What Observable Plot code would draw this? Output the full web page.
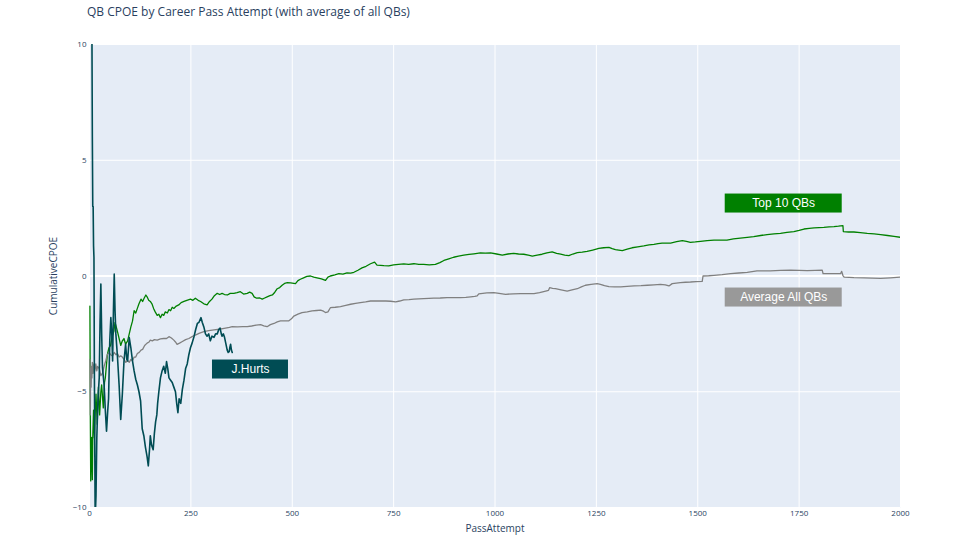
<!DOCTYPE html>
<html>
<head>
<meta charset="utf-8">
<script src="https://cdn.jsdelivr.net/npm/d3@7"></script>
<script src="https://cdn.jsdelivr.net/npm/@observablehq/plot@0.6"></script>
<style>
  html, body { margin: 0; padding: 0; background: #fff; }
  #wrap { position: relative; width: 960px; height: 540px; }
  #title { position: absolute; left: 87px; top: 3px; font-family: "Open Sans", sans-serif; font-size: 12px; color: #2a3f5f; white-space: nowrap; }
</style>
</head>
<body>
<div id="wrap"><div id="title">QB CPOE by Career Pass Attempt (with average of all QBs)</div></div>
<script>
// ---- data (PassAttempt, CumulativeCPOE) ----
const top10 = [[1,-1.3],[2,-6.1],[3,-8.85],[4,-7.5],[5,-6.97],[6,-8.0],[7,-8.8],[8,-7.0],[10,-5.8],[12,-7.0],[14,-6.0],[16,-5.1],[19,-6.4],[22,-4.8],[25,-6.0],[28,-5.0],[30,-4.7],[34,-5.7],[37,-4.6],[39,-4.4],[42,-3.8],[44,-3.4],[48,-3.1],[52,-3.0],[56,-2.6],[60,-2.4],[63,-2.0],[66,-2.2],[69,-2.4],[73,-2.7],[77,-3.0],[81,-2.8],[85,-2.7],[89,-2.95],[94,-2.8],[98,-2.5],[102,-2.2],[106,-1.95],[110,-1.5],[114,-1.6],[118,-1.4],[122,-1.2],[127,-1.0],[131,-1.1],[135,-0.95],[139,-0.82],[142,-0.9],[146,-1.05],[150,-1.1],[154,-1.2],[158,-1.4],[162,-1.55],[167,-1.7],[171,-1.65],[175,-1.8],[179,-1.65],[183,-1.7],[187,-1.55],[192,-1.6],[196,-1.45],[200,-1.5],[204,-1.35],[208,-1.4],[214,-1.3],[220,-1.25],[226,-1.15],[233,-1.1],[240,-1.05],[249,-1.0],[255,-1.05],[261,-0.96],[268,-1.05],[274,-1.1],[282,-1.2],[290,-1.25],[296,-1.1],[302,-1.0],[308,-0.85],[315,-0.75],[321,-0.8],[327,-0.75],[333,-0.8],[340,-0.82],[347,-0.75],[356,-0.75],[364,-0.72],[372,-0.68],[380,-0.78],[389,-0.75],[395,-0.7],[401,-0.75],[406,-0.9],[412,-0.96],[420,-0.95],[426,-1.0],[432,-0.95],[438,-0.9],[445,-0.85],[451,-0.82],[457,-0.7],[463,-0.55],[469,-0.5],[475,-0.4],[481,-0.32],[488,-0.29],[496,-0.3],[508,-0.33],[514,-0.2],[520,-0.14],[528,-0.08],[536,-0.02],[545,0.0],[553,-0.05],[561,-0.08],[572,-0.12],[582,-0.19],[588,-0.05],[594,0.0],[605,0.05],[615,0.1],[625,0.08],[635,0.13],[644,0.12],[652,0.16],[662,0.25],[672,0.35],[682,0.42],[693,0.53],[703,0.6],[709,0.47],[718,0.46],[726,0.45],[738,0.44],[750,0.48],[762,0.5],[775,0.52],[787,0.5],[800,0.53],[812,0.5],[824,0.5],[838,0.48],[853,0.5],[864,0.58],[874,0.67],[886,0.74],[898,0.81],[910,0.86],[923,0.9],[936,0.93],[948,0.96],[964,1.0],[976,0.99],[989,1.0],[1004,0.95],[1018,0.9],[1032,0.95],[1046,0.98],[1058,0.95],[1071,0.94],[1082,0.9],[1092,0.86],[1104,0.9],[1116,0.94],[1128,1.0],[1141,1.04],[1152,0.98],[1162,0.94],[1172,0.9],[1182,0.88],[1192,0.95],[1203,1.01],[1215,1.03],[1227,1.06],[1241,1.12],[1256,1.19],[1268,1.22],[1281,1.24],[1289,1.18],[1297,1.14],[1305,1.12],[1314,1.1],[1326,1.16],[1338,1.22],[1352,1.26],[1367,1.3],[1380,1.34],[1392,1.37],[1402,1.4],[1412,1.42],[1422,1.42],[1433,1.42],[1448,1.48],[1462,1.53],[1472,1.5],[1482,1.45],[1494,1.47],[1507,1.5],[1523,1.53],[1540,1.55],[1556,1.55],[1572,1.55],[1588,1.6],[1605,1.64],[1622,1.67],[1638,1.7],[1655,1.75],[1671,1.79],[1688,1.82],[1704,1.84],[1720,1.88],[1737,1.92],[1750,1.97],[1762,2.03],[1775,2.06],[1787,2.08],[1799,2.09],[1811,2.1],[1824,2.12],[1836,2.13],[1847,2.15],[1858,2.18],[1859,1.92],[1872,1.9],[1885,1.9],[1901,1.87],[1918,1.84],[1935,1.82],[1951,1.79],[1968,1.75],[1984,1.71],[2000,1.67]];

const avgAll = [[1,-3.6],[2,-6.0],[3,-4.0],[4,-4.8],[5,-3.9],[6,-4.4],[7,-3.73],[9,-4.2],[11,-3.8],[13,-4.1],[15.6,-3.8],[18,-4.1],[20,-3.9],[24,-4.0],[28,-4.3],[32,-4.2],[36,-3.9],[40,-3.67],[44,-3.4],[48.5,-3.3],[52,-3.4],[56.8,-3.45],[61,-3.3],[65,-3.4],[69,-3.35],[73,-3.5],[77,-3.45],[81,-3.5],[85,-3.6],[89.5,-3.73],[94,-3.65],[98,-3.73],[102,-3.6],[106,-3.67],[110,-3.5],[114,-3.5],[118,-3.35],[122.6,-3.3],[127,-3.2],[131,-3.17],[136,-3.0],[142,-2.9],[147,-2.85],[150,-2.77],[155,-2.8],[160,-2.75],[167,-2.77],[175,-2.72],[183,-2.7],[190,-2.7],[196,-2.62],[202,-2.68],[208,-2.77],[212,-2.85],[216,-2.95],[222,-2.9],[228,-2.84],[237,-2.75],[245,-2.7],[253,-2.62],[261,-2.55],[270,-2.48],[282,-2.4],[294,-2.36],[307,-2.33],[320,-2.3],[332,-2.26],[345,-2.22],[352,-2.19],[365,-2.2],[378,-2.19],[389,-2.19],[400,-2.16],[411,-2.12],[422,-2.1],[430,-2.15],[438,-2.19],[446,-2.1],[455,-2.05],[463,-1.98],[471,-1.94],[481,-1.94],[491,-1.94],[498,-1.85],[504,-1.73],[514,-1.65],[524,-1.58],[537,-1.55],[549,-1.51],[560,-1.49],[570,-1.47],[577,-1.52],[582,-1.58],[588,-1.55],[594,-1.37],[606,-1.35],[619,-1.32],[632,-1.27],[644,-1.22],[656,-1.18],[668,-1.15],[681,-1.12],[693,-1.08],[705,-1.08],[718,-1.08],[731,-1.08],[743,-1.09],[755,-1.12],[765,-1.08],[775,-1.03],[788,-1.02],[800,-1.0],[812,-0.99],[824,-0.98],[837,-0.97],[849,-0.96],[865,-0.95],[882,-0.93],[898,-0.93],[915,-0.93],[928,-0.92],[940,-0.9],[950,-0.88],[956,-0.86],[960,-0.77],[970,-0.75],[980,-0.73],[997,-0.72],[1010,-0.75],[1026,-0.79],[1045,-0.77],[1063,-0.76],[1080,-0.76],[1096,-0.76],[1110,-0.72],[1125,-0.65],[1132,-0.62],[1135,-0.5],[1142,-0.53],[1149,-0.55],[1163,-0.6],[1178,-0.65],[1190,-0.6],[1203,-0.55],[1213,-0.47],[1223,-0.4],[1237,-0.36],[1252,-0.33],[1260,-0.36],[1270,-0.42],[1281,-0.46],[1295,-0.47],[1310,-0.47],[1326,-0.45],[1343,-0.43],[1360,-0.42],[1376,-0.4],[1392,-0.38],[1408,-0.36],[1420,-0.38],[1429,-0.43],[1437,-0.33],[1447,-0.31],[1457,-0.29],[1470,-0.27],[1482,-0.26],[1496,-0.24],[1511,-0.23],[1513,0.0],[1527,0.01],[1540,0.03],[1560,0.06],[1581,0.1],[1601,0.13],[1622,0.16],[1634,0.19],[1646,0.22],[1663,0.22],[1679,0.22],[1704,0.24],[1729,0.25],[1750,0.24],[1770,0.23],[1790,0.24],[1807,0.25],[1809,0.1],[1830,0.1],[1852,0.1],[1855,0.2],[1858,0.02],[1861,-0.05],[1885,-0.07],[1910,-0.08],[1930,-0.09],[1951,-0.1],[1975,-0.08],[2000,-0.05]];

const hurts = [[1,60],[4,25],[6,10.5],[7,6],[8,3.0],[9,3.0],[10,1.3],[11,0.8],[12,-4],[14,-10.5],[16,-9.5],[18,-7.0],[20,-5.8],[22,-5.0],[24,-4.4],[26,-2.0],[28,-0.35],[30,-2.5],[32,-3.96],[36,-4.7],[39,-5.8],[42,-6.7],[45,-5.8],[47,-5.3],[50,-2.8],[52.6,-1.8],[55,-2.5],[57,-3.67],[59,-1.5],[61,0.08],[63,-1.5],[65,-2.5],[69,-3.5],[73,-4.7],[77,-6.2],[81,-5.1],[85,-3.7],[89,-2.95],[92,-3.6],[94,-3.67],[98,-2.66],[102,-3.1],[106,-3.67],[110,-4.1],[114,-4.46],[118,-4.7],[122,-5.0],[126,-5.4],[130,-6.6],[134,-6.9],[138,-7.4],[142,-7.8],[145,-8.2],[148,-7.5],[150,-6.9],[153,-7.3],[157,-7.5],[160,-6.8],[163,-6.3],[166,-6.0],[168,-5.5],[171,-5.0],[175,-4.4],[179,-4.1],[183,-3.9],[187,-4.2],[190,-3.7],[193,-4.0],[196,-4.4],[200,-4.5],[204,-4.6],[208,-4.8],[212,-5.0],[215,-5.5],[218,-5.9],[221,-5.3],[225,-5.5],[229,-4.9],[233,-4.5],[237,-4.0],[241,-3.8],[245,-3.4],[249,-3.1],[253,-2.9],[258,-2.6],[262,-2.3],[266,-2.05],[270,-2.0],[275,-1.8],[278,-2.0],[282,-2.2],[286,-2.5],[290,-2.6],[294,-2.5],[298,-2.8],[302,-2.6],[307,-2.65],[311,-2.5],[315,-2.5],[319,-2.3],[322,-2.25],[325,-2.5],[327,-2.6],[330,-2.5],[333,-2.65],[336,-2.9],[339.6,-3.2],[342,-3.3],[344.6,-3.27],[346,-3.1],[348,-2.95],[350,-3.2],[352,-3.3]];

const xTicks = [0, 250, 500, 750, 1000, 1250, 1500, 1750, 2000];
const yTicks = [-10, -5, 0, 5, 10];
const xTitle = "PassAttempt";
const yTitle = "CumulativeCPOE";

const annLabels = ["Top 10 QBs", "Average All QBs", "J.Hurts"];
const annX = [1712, 1712, 397];
const annY = [3.13, -0.93, -4.04];

// ---- styles ----
const colors = ["#008000", "#999999", "#004c54"];
const lineColors = {top: "#008000", avg: "#808080", hurts: "#004c54"};
const boxW = [117, 117, 76];
const boxH = 19;

const toRows = arr => arr.map(([x, y]) => ({x, y}));

const annMarks = annLabels.flatMap((label, i) => {
  const d = [{x: annX[i], y: annY[i], label}];
  return [
    Plot.rect(d, {x1: "x", x2: "x", y1: "y", y2: "y", fill: colors[i],
      insetLeft: -boxW[i] / 2, insetRight: -boxW[i] / 2, insetTop: -boxH / 2, insetBottom: -boxH / 2}),
    Plot.text(d, {x: "x", y: "y", text: "label", fill: "white", fontSize: 12,
      fontFamily: "Liberation Sans, Arial, sans-serif"})
  ];
});

const chart = Plot.plot({
  width: 960,
  height: 540,
  marginLeft: 89,
  marginRight: 60,
  marginTop: 44,
  marginBottom: 33,
  style: {fontFamily: "Open Sans, sans-serif", color: "#2a3f5f", background: "transparent"},
  x: {domain: [0, 2000]},
  y: {domain: [-10, 10]},
  marks: [
    Plot.frame({fill: "#e5ecf6", stroke: null}),
    Plot.gridX(xTicks, {stroke: "white", strokeOpacity: 1, strokeWidth: 1}),
    Plot.gridY(yTicks, {stroke: "white", strokeOpacity: 1, strokeWidth: 1}),
    Plot.ruleY([0], {stroke: "white", strokeWidth: 2}),
    Plot.axisX(xTicks, {tickSize: 0, tickPadding: 3, fontSize: 8, tickFormat: d3.format("d"), label: null}),
    Plot.axisY(yTicks, {tickSize: 0, tickPadding: 3, fontSize: 8, label: null}),
    Plot.text([xTitle], {frameAnchor: "bottom", dy: 24, fontSize: 10, fill: "#2a3f5f"}),
    Plot.text([yTitle], {frameAnchor: "left", textAnchor: "middle", dx: -36, rotate: -90, fontSize: 10, fill: "#2a3f5f"}),
    Plot.line(toRows(top10), {x: "x", y: "y", stroke: lineColors.top, strokeWidth: 1.3, clip: true}),
    Plot.line(toRows(avgAll), {x: "x", y: "y", stroke: lineColors.avg, strokeWidth: 1.3, clip: true}),
    Plot.line(toRows(hurts), {x: "x", y: "y", stroke: lineColors.hurts, strokeWidth: 1.6, clip: true}),
    ...annMarks
  ]
});
document.getElementById("wrap").appendChild(chart);
</script>
</body>
</html>
